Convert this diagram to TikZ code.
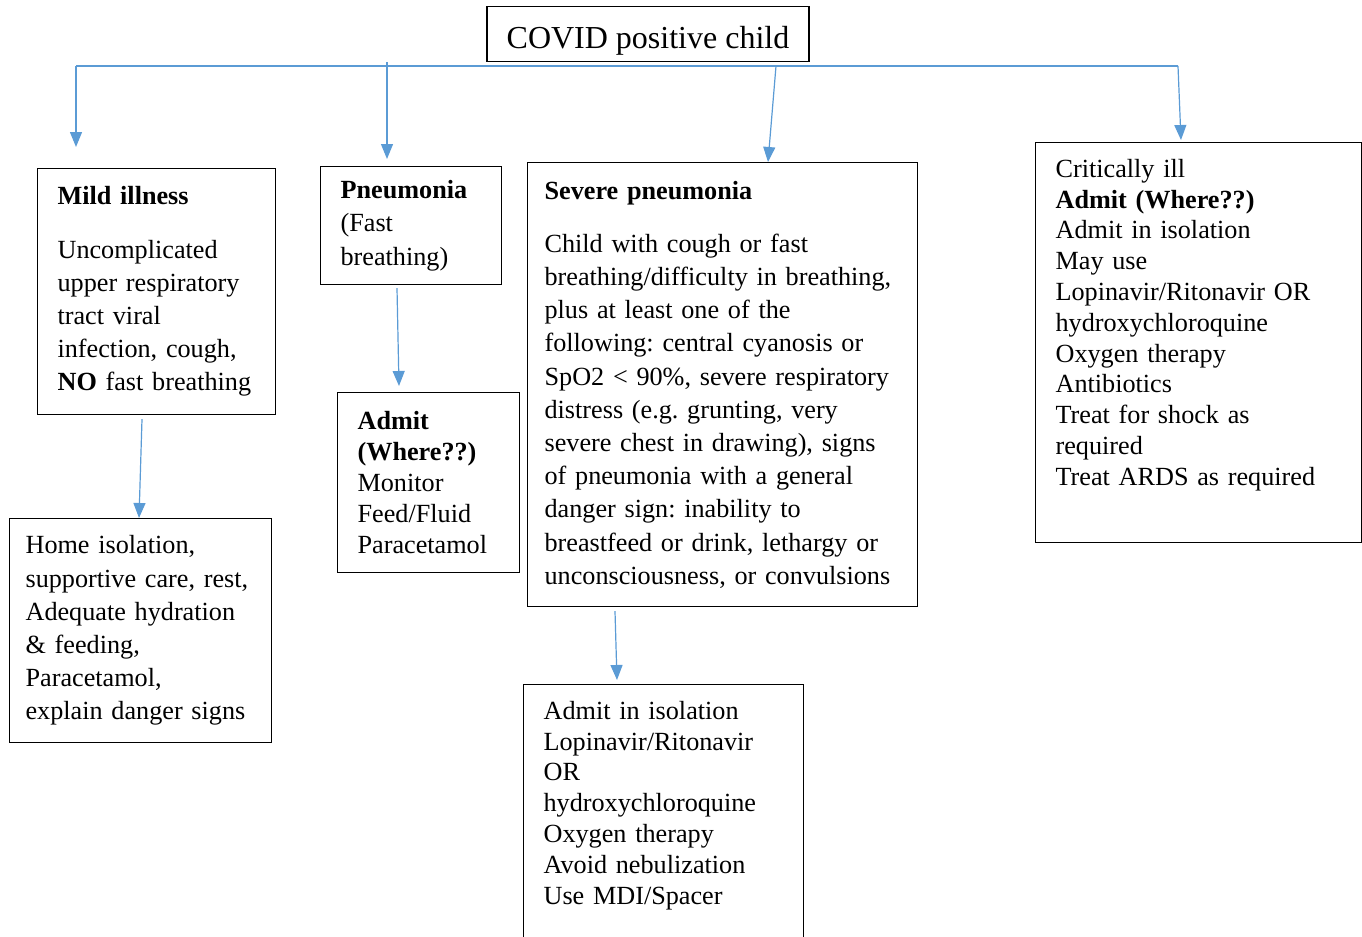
\documentclass[tikz,border=0pt]{standalone}
\usepackage{fontspec}
\setmainfont{Liberation Serif}
\usetikzlibrary{arrows.meta,calc}
\definecolor{arrowblue}{RGB}{91,155,213}

\begin{document}
\frenchspacing
\begin{tikzpicture}[x=0.5pt,y=-0.5pt,
    box/.style={draw, line width=0.6pt, align=left, inner xsep=10pt, inner ysep=0pt, anchor=north west},
    loose/.style={font=\fontsize{13.1}{16.6}\selectfont},
    tight/.style={font=\fontsize{13.1}{15.4}\selectfont},
    link/.style={arrowblue, line width=0.6pt},
    arr/.style={link, -{Triangle[length=7.5pt,width=6pt]}}]
    \useasboundingbox (0,0) rectangle (1362,937);
    \clip (0,0) rectangle (1362,937);
    \node[draw, line width=0.6pt, minimum width=161pt, minimum height=27.5pt, text height=14pt, text depth=0pt,
        font=\fontsize{16}{19}\selectfont] (covid) at (648,34) {COVID positive child};
    \node[box, loose, text width=99pt, minimum height=123pt] (mild) at (37,168)
        {\textbf{Mild illness}\\[10pt] Uncomplicated\\ upper respiratory\\ tract viral\\
         infection, cough,\\ \textbf{NO} fast breathing};
    \node[box, loose, text width=70.5pt, minimum height=59pt] (pneu) at (320,166)
        {\textbf{Pneumonia}\\ (Fast\\ breathing)};
    \node[box, loose, inner xsep=8.5pt, text width=178pt, minimum height=222pt] (severe) at (527,162)
        {\textbf{Severe pneumonia}\\[10pt] Child with cough or fast\\
         breathing/difficulty in breathing,\\ plus at least one of the\\
         following: central cyanosis or\\ SpO2 < 90\%, severe respiratory\\
         distress (e.g. grunting, very\\ severe chest in drawing), signs\\
         of pneumonia with a general\\ danger sign: inability to\\
         breastfeed or drink, lethargy or\\ unconsciousness, or convulsions};
    \node[box, tight, text width=143pt, minimum height=200pt] (crit) at (1035,142)
        {Critically ill\\ \textbf{Admit (Where??)}\\ Admit in isolation\\ May use\\
         Lopinavir/Ritonavir OR\\ hydroxychloroquine\\ Oxygen therapy\\ Antibiotics\\
         Treat for shock as\\ required\\ Treat ARDS as required\\[5pt] \mbox{}};
    \node[box, loose, inner xsep=8pt, text width=115pt, minimum height=112pt] (home) at (9,518)
        {Home isolation,\\ supportive care, rest,\\ Adequate hydration\\ \& feeding,\\
         Paracetamol,\\ explain danger signs};
    \node[box, tight, text width=71pt, minimum height=90pt] (admit) at (337,392)
        {\textbf{Admit}\\ \textbf{(Where??)}\\ Monitor\\ Feed/Fluid\\ Paracetamol};
    \node[box, tight, text width=120pt, minimum height=133.5pt] (isol) at (523,684)
        {Admit in isolation\\ Lopinavir/Ritonavir\\ OR\\ hydroxychloroquine\\
         Oxygen therapy\\ Avoid nebulization\\ Use MDI/Spacer\\ \mbox{}};
    % branches from the top
    \coordinate (bl) at (76,66);
    \coordinate (br) at (1178,66);
    \coordinate (b2) at (387,62);
    \coordinate (b3) at (776,66);
    \draw[link] (bl) -- (br);
    \draw[arr, shorten >=10.5pt] (bl) -- (bl |- mild.north);
    \draw[arr, shorten >=3.5pt] (b2) -- (b2 |- pneu.north);
    \draw[arr] (b3) -- ($(severe.north west)+(241,0)$);
    \draw[arr] (br) -- ($(crit.north west)+(146,-2)$);
    % second level
    \draw[arr] ($(mild.south west)+(105,4)$) -- ($(home.north west)+(130,0)$);
    \draw[arr] ($(pneu.south west)+(77,3)$) -- ($(admit.north west)+(62,-6)$);
    \draw[arr] ($(severe.south west)+(88,4)$) -- ($(isol.north west)+(94,-4)$);
\end{tikzpicture}
\end{document}
